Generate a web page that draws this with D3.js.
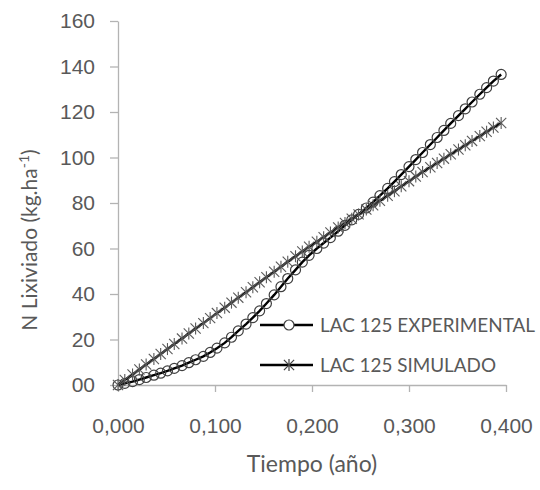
<!DOCTYPE html>
<html>
<head>
<meta charset="utf-8">
<script src="https://cdn.jsdelivr.net/npm/d3@7"></script>
<style>
  body { margin: 0; background: #fff; }
  svg { display: block; font-family: Lato, "Open Sans", sans-serif; }
  .axis path, .axis line { stroke: #b3b3b3; stroke-width: 1.3; }
  .axis text { fill: #595959; font-size: 21px; }
</style>
</head>
<body>
<svg width="540" height="490"></svg>
<script>
// tiempo (años)
var tiempo = [0.000, 0.007, 0.015, 0.022, 0.029, 0.037, 0.044, 0.051, 0.058, 0.066,
  0.073, 0.080, 0.088, 0.095, 0.102, 0.110, 0.117, 0.124, 0.132, 0.139,
  0.146, 0.153, 0.161, 0.168, 0.175, 0.183, 0.190, 0.197, 0.205, 0.212,
  0.219, 0.227, 0.234, 0.241, 0.248, 0.256, 0.263, 0.270, 0.278, 0.285,
  0.292, 0.300, 0.307, 0.314, 0.322, 0.329, 0.336, 0.343, 0.351, 0.358,
  0.365, 0.373, 0.380, 0.387, 0.395];

// LAC 125 EXPERIMENTAL
var experimental = [0, 0.7, 1.5, 2.4, 3.3, 4.3, 5.2, 6.2, 7.3, 8.5,
  9.8, 11.1, 12.6, 14.3, 16.2, 18.5, 21.0, 23.8, 26.8, 29.6,
  32.6, 35.8, 39.6, 43.2, 46.8, 50.6, 54.0, 57.0, 60.0, 62.4,
  64.8, 67.6, 70.2, 72.6, 75.0, 77.8, 80.4, 83.2, 86.4, 89.4,
  92.5, 96.0, 99.1, 102.2, 105.7, 108.8, 111.9, 115.0, 118.4, 121.4,
  124.4, 127.8, 130.7, 133.6, 136.5];

// LAC 125 SIMULADO
var simulado = [0, 2.2, 4.6, 6.8, 9.0, 11.4, 13.6, 15.8, 18.0, 20.4,
  22.6, 24.8, 27.2, 29.4, 31.6, 34.0, 36.2, 38.4, 40.8, 43.0,
  45.2, 47.4, 49.8, 52.0, 54.2, 56.6, 58.7, 60.8, 63.0, 65.0,
  67.0, 69.2, 71.2, 73.1, 75.0, 77.1, 79.0, 81.0, 83.2, 85.2,
  87.4, 89.6, 91.6, 93.6, 95.7, 97.6, 99.5, 101.4, 103.5, 105.4,
  107.3, 109.4, 111.3, 113.2, 115.2];

var yTicks = [0, 20, 40, 60, 80, 100, 120, 140, 160];
var xTicks = [0, 0.1, 0.2, 0.3, 0.4];

var svg = d3.select("svg");

var x = d3.scaleLinear().domain([0, 0.4]).range([118, 506]);
var y = d3.scaleLinear().domain([0, 160]).range([385, 21]);

// ejes
svg.append("g").attr("class", "axis")
  .attr("transform", "translate(118,0)")
  .call(d3.axisLeft(y).tickValues(yTicks).tickSize(8).tickSizeOuter(0).tickPadding(15)
    .tickFormat(function(d) { return d === 0 ? "00" : d; }));

svg.append("g").attr("class", "axis")
  .attr("transform", "translate(0,385)")
  .call(d3.axisBottom(x).tickValues(xTicks).tickSize(7).tickSizeOuter(0).tickPadding(26)
    .tickFormat(function(d) { return d3.format(".3f")(d).replace(".", ","); }));

// titulos
svg.append("text")
  .attr("x", 312).attr("y", 472)
  .attr("text-anchor", "middle")
  .attr("fill", "#595959").style("font-size", "23px")
  .text("Tiempo (año)");

var yt = svg.append("text")
  .attr("transform", "translate(37,240) rotate(-90)")
  .attr("text-anchor", "middle")
  .attr("fill", "#595959").style("font-size", "21px");
yt.append("tspan").text("N Lixiviado (kg.ha");
yt.append("tspan").attr("dy", -8).style("font-size", "14px").text("-1");
yt.append("tspan").attr("dy", 8).text(")");

var line = d3.line()
  .x(function(d) { return x(d[0]); })
  .y(function(d) { return y(d[1]); });

var expData = tiempo.map(function(t, i) { return [t, experimental[i]]; });
var simData = tiempo.map(function(t, i) { return [t, simulado[i]]; });

function star(g, s) {
  g.append("line").attr("x1", 0).attr("y1", -s).attr("x2", 0).attr("y2", s);
  g.append("line").attr("x1", -s * 0.85).attr("y1", -s * 0.85).attr("x2", s * 0.85).attr("y2", s * 0.85);
  g.append("line").attr("x1", -s * 0.85).attr("y1", s * 0.85).attr("x2", s * 0.85).attr("y2", -s * 0.85);
}

// serie experimental
svg.append("path").datum(expData)
  .attr("fill", "none").attr("stroke", "#000").attr("stroke-width", 2.4)
  .attr("d", line);
svg.append("g").selectAll("circle").data(expData).enter()
  .append("circle")
  .attr("cx", function(d) { return x(d[0]); })
  .attr("cy", function(d) { return y(d[1]); })
  .attr("r", 5)
  .attr("fill", "none").attr("stroke", "#404040").attr("stroke-width", 1.2);

// serie simulada
svg.append("path").datum(simData)
  .attr("fill", "none").attr("stroke", "#000").attr("stroke-width", 2.4)
  .attr("d", line);
svg.append("g").selectAll("g").data(simData).enter()
  .append("g")
  .attr("transform", function(d) { return "translate(" + x(d[0]) + "," + y(d[1]) + ")"; })
  .attr("stroke", "#595959").attr("stroke-width", 1.1)
  .each(function() { star(d3.select(this), 6); });

// leyenda
var leg = svg.append("g");
var items = [["LAC 125 EXPERIMENTAL", 325, 215], ["LAC 125 SIMULADO", 365, 176]];
items.forEach(function(it, i) {
  leg.append("line").attr("x1", 260).attr("x2", 313).attr("y1", it[1]).attr("y2", it[1])
    .attr("stroke", "#000").attr("stroke-width", 2.4);
  if (i === 0) {
    leg.append("circle").attr("cx", 289).attr("cy", it[1]).attr("r", 5)
      .attr("fill", "#fff").attr("stroke", "#404040").attr("stroke-width", 1.2);
  } else {
    var g = leg.append("g").attr("transform", "translate(289," + it[1] + ")")
      .attr("stroke", "#404040").attr("stroke-width", 1.2);
    star(g, 6);
  }
  leg.append("text").attr("x", 320).attr("y", it[1] + 7)
    .attr("fill", "#595959").style("font-size", "19px")
    .attr("textLength", it[2]).attr("lengthAdjust", "spacingAndGlyphs")
    .text(it[0]);
});
</script>
</body>
</html>
